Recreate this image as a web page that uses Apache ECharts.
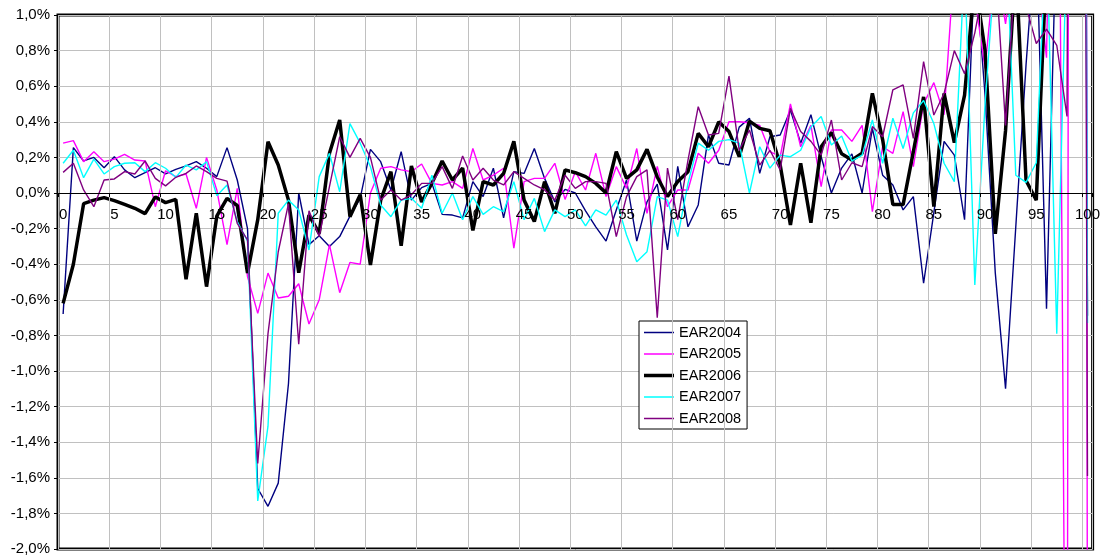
<!DOCTYPE html>
<html>
<head>
<meta charset="utf-8">
<script src="https://cdn.jsdelivr.net/npm/echarts@6/dist/echarts.min.js"></script>
<style>html,body{margin:0;padding:0;background:#fff}#c{width:1103px;height:557px}</style>
</head>
<body>
<div id="c"></div>
<script>
// values in percent
const categories = Array.from({length: 101}, (_, i) => String(i));
const EAR2004 = [-0.68,0.255,0.18,0.20,0.142,0.204,0.13,0.086,0.114,0.142,0.107,0.133,0.152,0.176,0.139,0.092,0.255,0.073,-0.2,-1.66,
-1.76,-1.63,-1.07,0.0,-0.29,-0.24,-0.30,-0.245,-0.13,-0.03,0.245,0.176,0.017,0.232,-0.04,0.03,0.054,-0.12,-0.124,-0.14,
0.064,-0.02,0.139,-0.14,0.12,0.11,0.25,0.082,-0.05,0.02,0.0,-0.1,-0.19,-0.27,-0.096,0.073,-0.27,-0.05,0.05,-0.32,
0.15,-0.19,-0.067,0.326,0.167,0.157,0.37,0.42,0.11,0.316,0.326,0.466,0.28,0.44,0.204,0.0,0.14,0.22,0.0,0.363,
0.1,0.045,-0.095,-0.02,-0.507,-0.11,0.29,0.213,-0.15,1.3,0.55,-0.45,-1.10,-0.19,0.72,1.5,-0.65,1.6,1.8,15,-0.69];
const EAR2005 = [0.28,0.294,0.176,0.232,0.176,0.19,0.217,0.185,0.18,-0.077,0.125,0.092,0.107,-0.086,0.2,0.017,-0.29,0.026,-0.47,-0.676,
-0.45,-0.59,-0.58,-0.51,-0.736,-0.6,-0.29,-0.56,-0.39,-0.40,0.0,0.139,0.148,0.13,0.12,0.163,0.054,0.045,0.064,0.026,
0.25,0.073,0.1,0.139,-0.31,0.064,0.082,0.082,0.167,-0.036,0.12,0.017,0.223,-0.02,0.148,0.026,0.25,-0.114,0.15,-0.077,
0.017,0.017,0.223,0.167,0.24,0.4,0.4,0.395,0.38,0.232,0.204,0.5,0.26,0.38,0.036,0.354,0.354,0.29,0.38,-0.105,
0.26,0.223,0.457,0.148,0.5,0.62,0.44,1.3,1.3,1.1,0.7,1.3,0.95,1.4,1.2,1.3,0.76,4,-4.5,40,-3];
const EAR2006 = [-0.62,-0.40,-0.06,-0.04,-0.026,-0.043,-0.064,-0.086,-0.116,-0.022,-0.054,-0.036,-0.485,-0.114,-0.526,-0.13,-0.03,-0.07,-0.45,-0.15,
0.288,0.157,-0.04,-0.448,-0.124,-0.227,0.223,0.41,-0.133,-0.01,-0.404,-0.04,0.12,-0.296,0.152,-0.05,0.054,0.18,0.073,0.14,
-0.21,0.064,0.045,0.11,0.29,-0.04,-0.16,0.064,-0.114,0.13,0.114,0.092,0.054,0.0,0.232,0.082,0.13,0.245,0.09,-0.02,
0.064,0.12,0.335,0.26,0.40,0.345,0.204,0.404,0.363,0.35,0.157,-0.18,0.167,-0.167,0.26,0.34,0.22,0.185,0.223,0.56,
0.3,-0.065,-0.065,0.232,0.54,-0.077,0.56,0.283,0.55,1.2,0.80,-0.23,0.35,1.3,0.07,-0.04,1.3,1.5,1.6,1.8,2.0];
const EAR2007 = [0.167,0.24,0.086,0.19,0.107,0.148,0.167,0.17,0.12,0.17,0.139,0.088,0.157,0.13,0.176,-0.015,0.045,-0.16,-0.27,-1.73,
-1.31,-0.114,-0.04,-0.095,-0.32,0.092,0.223,0.007,0.39,0.28,0.148,-0.067,-0.133,-0.04,-0.03,-0.086,0.1,-0.114,0.0,-0.15,
-0.02,-0.12,-0.077,-0.105,0.064,-0.15,-0.03,-0.217,-0.095,-0.133,-0.095,-0.185,-0.095,-0.124,-0.04,-0.236,-0.386,-0.33,-0.02,-0.04,
-0.245,0.054,0.28,0.24,0.29,0.3,0.28,0.0,0.26,0.14,0.213,0.204,0.24,0.37,0.43,0.27,0.32,0.18,0.213,0.41,
0.167,0.42,0.25,0.45,0.52,0.39,0.167,0.064,1.3,-0.517,0.5,1.3,1.5,0.1,0.06,0.17,1.5,-0.79,1.5,15,-0.73];
const EAR2008 = [0.116,0.167,0.017,-0.077,0.073,0.079,0.12,0.107,0.18,0.082,0.04,0.088,0.11,0.152,0.12,0.082,0.067,-0.17,-0.264,-1.52,
-0.79,-0.33,-0.06,-0.85,-0.1,-0.245,0.036,0.316,0.2,0.307,0.2,-0.04,0.017,-0.04,-0.01,0.054,0.054,0.148,0.026,0.208,
0.073,0.139,0.073,0.045,0.12,0.082,0.045,0.017,-0.04,0.1,0.026,0.064,0.064,0.054,-0.245,-0.02,0.092,0.13,-0.70,0.14,
-0.15,0.185,0.485,0.326,0.335,0.657,0.24,0.354,0.157,0.24,0.13,0.476,0.345,0.29,0.213,0.41,0.073,0.17,0.148,0.373,
0.316,0.58,0.607,0.307,0.738,0.438,0.56,0.80,0.67,0.9,1.2,1.3,0.38,1.3,1.05,0.84,0.92,0.83,0.43,15,-1.59];
const seriesNames = ['EAR2004','EAR2005','EAR2006','EAR2007','EAR2008'];
const seriesData = [EAR2004, EAR2005, EAR2006, EAR2007, EAR2008];
const seriesColors = ['#000080','#FF00FF','#000000','#00FFFF','#800080'];
const seriesWidths = [1.4,1.4,3.5,1.4,1.4];

const Y_MIN = -2, Y_MAX = 1;
const GRID = {left: 58, right: 8, top: 15, bottom: 8};
const plotH = 557 - GRID.top - GRID.bottom;
const zeroOffset = -plotH * (0 - Y_MIN) / (Y_MAX - Y_MIN);

function legendIcon(w) {
  const y0 = 7 - w / 2;
  return 'path://M0,0h0.01v0.01h-0.01z M0,' + y0 + 'h30v' + w + 'h-30z M29.99,13.99h0.01v0.01h-0.01z';
}

const chart = echarts.init(document.getElementById('c'), null, {renderer: 'canvas'});
const font = 'Arial, "Liberation Sans", sans-serif';
chart.setOption({
  backgroundColor: '#ffffff',
  animation: false,
  grid: Object.assign({show: true, borderColor: '#000', borderWidth: 3, backgroundColor: 'transparent'}, GRID),
  legend: {
    orient: 'vertical', left: 639, top: 321,
    data: seriesNames.map((n, k) => ({name: n, icon: legendIcon(seriesWidths[k])})),
    backgroundColor: '#fff', borderColor: '#000', borderWidth: 1,
    padding: [4, 6, 3, 5], itemWidth: 30, itemHeight: 14, itemGap: 6.5,
    textStyle: {fontSize: 14.5, color: '#000', fontFamily: font}
  },
  xAxis: {
    type: 'category', data: categories, boundaryGap: true, z: 10,
    offset: zeroOffset,
    axisLine: {onZero: false, lineStyle: {color: '#000', width: 1}},
    axisTick: {show: true, interval: 4, length: 4, lineStyle: {color: '#000'}},
    axisLabel: {interval: 4, margin: 14, fontSize: 15, color: '#000', fontFamily: font},
    splitLine: {show: true, interval: 4, lineStyle: {color: '#c0c0c0', width: 1}}
  },
  yAxis: {
    type: 'value', min: Y_MIN, max: Y_MAX, interval: 0.2,
    axisLine: {show: true, lineStyle: {color: '#000'}},
    axisTick: {show: true, length: 4, lineStyle: {color: '#000'}},
    axisLabel: {fontSize: 15, color: '#000', fontFamily: font, margin: 8,
      formatter: v => v.toFixed(1).replace('.', ',') + '%'},
    splitLine: {show: true, lineStyle: {color: '#c0c0c0', width: 1}}
  },
  series: seriesNames.map((n, k) => ({
    name: n, type: 'line', data: seriesData[k], symbol: 'none', clip: true,
    color: seriesColors[k],
    lineStyle: {color: seriesColors[k], width: seriesWidths[k]},
    z: 2 + k
  }))
});
</script>
</body>
</html>
